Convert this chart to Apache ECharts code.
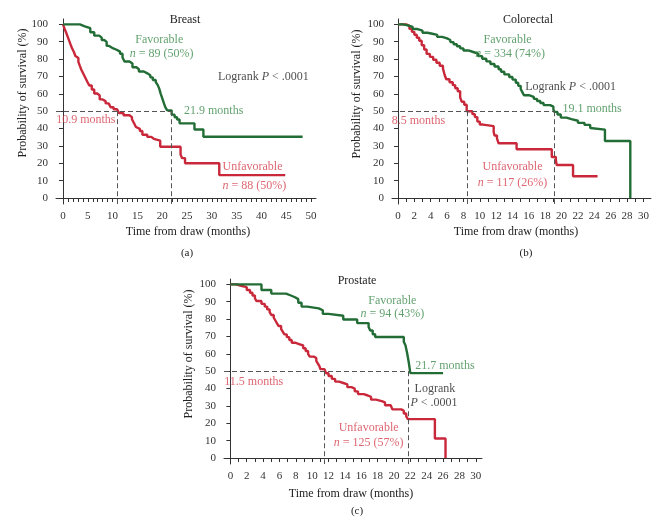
<!DOCTYPE html>
<html>
<head>
<meta charset="utf-8">
<script src="https://cdn.jsdelivr.net/npm/echarts@6/dist/echarts.min.js"></script>
<style>
    html, body { margin: 0; padding: 0; background: #fff; }
    #chart { width: 658px; height: 522px; }
</style>
</head>
<body>
<div id="chart"></div>
<script>
// survival curves, [months, survival %]
var breastFavorable = [[0,100],[3.4,98.9],[4.4,97.8],[5.5,95.5],[6.3,93.5],[7.3,92.4],[7.8,91.0],[8.3,89.9],[8.8,87.6],[9.3,86.5],[9.9,85.4],[10.8,84.3],[11.5,83.1],[12.0,80.9],[12.4,78.6],[13.4,77.5],[14.0,75.3],[14.8,74.2],[15.3,72.9],[16.3,71.8],[17.0,70.7],[17.6,69.5],[18.1,68.0],[18.7,66.8],[19.1,65.0],[19.4,63.0],[19.7,60.0],[20.0,57.5],[20.3,55.0],[20.6,52.5],[21.0,50.5],[21.9,48.0],[22.5,46.5],[23.0,45.2],[23.5,43.0],[26.5,39.5],[28.3,35.3],[48.3,35.3]];
var breastUnfavorable = [[0,100],[0.3,97.7],[0.6,95.5],[0.9,93.2],[1.2,90.9],[1.5,88.6],[1.8,86.4],[2.2,84.1],[2.5,81.8],[2.8,80.7],[3.1,78.4],[3.4,76.1],[3.7,73.9],[4.1,71.6],[4.5,69.3],[4.9,67.0],[5.3,64.8],[5.8,62.5],[6.3,60.2],[6.9,59.1],[7.4,56.8],[8.0,55.7],[8.6,54.5],[9.2,53.4],[9.6,52.3],[10.2,51.1],[10.9,50.0],[11.3,48.9],[12.2,47.7],[13.4,46.6],[13.9,45.4],[14.3,43.2],[14.7,40.9],[15.1,39.8],[15.5,38.6],[16.0,36.4],[17.0,35.2],[17.8,34.1],[18.3,33.0],[19.6,29.5],[23.7,25.0],[24.0,23.0],[24.6,20.0],[31.5,13.2],[44.8,13.2]];
var colorectalFavorable = [[0,100],[0.6,99.4],[1.2,98.5],[1.8,97.3],[2.4,96.4],[3.0,95.2],[3.6,94.6],[4.2,94.0],[4.8,92.8],[5.4,91.9],[6.0,91.0],[6.4,89.8],[6.8,88.6],[7.2,87.4],[7.6,86.2],[8.0,85.0],[8.6,84.1],[9.2,83.2],[9.8,81.7],[10.3,80.2],[10.8,78.7],[11.3,77.2],[11.8,75.7],[12.3,74.2],[12.6,72.7],[13.0,71.2],[13.6,69.7],[14.0,68.2],[14.4,66.4],[14.7,64.6],[15.0,62.8],[15.2,61.0],[15.4,59.2],[16.0,58.3],[16.6,57.1],[17.0,55.9],[17.4,54.7],[17.8,53.5],[18.6,52.6],[19.0,51.1],[19.1,49.6],[19.5,48.1],[19.9,46.3],[20.6,45.4],[21.2,44.5],[22.0,43.3],[22.8,42.1],[23.5,40.3],[23.7,39.4],[25.3,32.8],[28.4,0]];
var colorectalUnfavorable = [[0,100],[1.0,99.1],[1.4,97.4],[1.7,95.7],[2.0,94.0],[2.3,92.3],[2.6,90.6],[2.9,88.0],[3.2,85.5],[3.5,83.0],[3.9,81.3],[4.3,79.6],[4.7,77.9],[5.1,76.2],[5.5,74.5],[5.7,71.0],[5.9,68.4],[6.3,66.7],[6.7,65.0],[7.0,63.2],[7.3,61.5],[7.6,58.0],[7.8,55.4],[8.1,53.7],[8.4,50.0],[9.1,48.3],[9.4,46.6],[9.7,44.0],[10.0,42.3],[10.4,41.4],[11.7,38.0],[11.8,36.0],[12.1,34.3],[12.3,31.5],[14.5,28.1],[18.8,23.6],[19.3,21.9],[19.4,19.0],[21.4,12.5],[24.4,12.5]];
var prostateFavorable = [[0,100],[3.8,96.8],[5.0,94.7],[6.8,93.6],[7.4,92.6],[7.9,91.5],[8.3,89.4],[8.7,87.2],[9.4,86.2],[10.8,85.1],[11.3,83.0],[12.0,81.9],[13.8,79.8],[15.5,77.7],[16.9,75.5],[17.1,73.4],[17.4,71.3],[17.7,69.7],[21.2,67.0],[21.4,64.9],[21.6,60.6],[21.8,55.3],[22.0,48.9],[26.0,48.9]];
var prostateUnfavorable = [[0,100],[0.7,99.2],[1.3,98.4],[2.0,96.8],[2.4,95.2],[2.7,93.6],[3.0,92.0],[3.2,90.4],[3.8,88.8],[4.2,87.2],[4.5,85.6],[4.8,84.0],[5.0,82.4],[5.3,80.8],[5.5,79.2],[5.7,77.6],[5.9,76.0],[6.2,74.4],[6.4,72.8],[6.6,71.2],[6.9,69.6],[7.2,68.0],[7.5,66.4],[7.9,65.6],[8.4,64.8],[8.9,63.2],[9.2,61.6],[9.5,60.0],[9.7,58.4],[10.2,57.6],[10.5,56.0],[10.7,54.4],[10.9,52.8],[11.0,51.2],[11.5,50.4],[11.7,48.8],[12.0,47.2],[12.4,45.6],[12.8,44.0],[13.3,43.2],[13.8,42.4],[14.3,40.8],[14.8,40.0],[15.2,38.4],[15.6,36.8],[16.3,36.0],[16.8,35.2],[17.2,33.6],[17.8,32.8],[18.5,32.0],[18.9,30.4],[19.6,29.6],[19.8,28.0],[20.9,27.2],[21.2,25.6],[21.5,24.0],[21.7,22.4],[25.0,11.2],[26.3,0]];

// median survival (months): [unfavorable, favorable]
var breastMedians = [10.9, 21.9];
var colorectalMedians = [8.5, 19.1];
var prostateMedians = [11.5, 21.7];

var panelTitles = ['Breast', 'Colorectal', 'Prostate'];
var panelLetters = ['(a)', '(b)', '(c)'];
var yTicks = [0, 10, 20, 30, 40, 50, 60, 70, 80, 90, 100];
var xLabelsA = [0, 5, 10, 15, 20, 25, 30, 35, 40, 45, 50];
var xLabelsBC = [0, 2, 4, 6, 8, 10, 12, 14, 16, 18, 20, 22, 24, 26, 28, 30];

var SERIF = '"Liberation Serif", "DejaVu Serif", serif';
var GREEN = '#226d35';
var RED = '#c9283b';
var GREEN_TXT = '#3b8a4b';
var RED_TXT = '#d4404e';
var INK = '#222';

function range(a, b) {
    var out = [];
    for (var i = a; i <= b; i++) out.push(i);
    return out;
}

var panels = [
    { fav: breastFavorable, unf: breastUnfavorable, med: breastMedians,
      grid: { left: 56, top: 19, width: 260, height: 185 },
      xmin: -1.41, xmax: 51.0, xLabels: xLabelsA, xTicks: range(0, 50),
      notes: [
          [19.4, 91, 'Favorable', GREEN_TXT, 'center'],
          [19.9, 83.3, '{i|n} = 89 (50%)', GREEN_TXT, 'center'],
          [40.4, 69.5, 'Logrank {i|P} < .0001', INK, 'center'],
          [24.4, 50.1, '21.9 months', GREEN_TXT, 'left'],
          [4.6, 44.9, '10.9 months', RED_TXT, 'center'],
          [38.2, 18, 'Unfavorable', RED_TXT, 'center'],
          [38.6, 7.1, '{i|n} = 88 (50%)', RED_TXT, 'center']
      ] },
    { fav: colorectalFavorable, unf: colorectalUnfavorable, med: colorectalMedians,
      grid: { left: 392, top: 19, width: 259, height: 185 },
      xmin: -0.73, xmax: 30.93, xLabels: xLabelsBC, xTicks: range(0, 30),
      notes: [
          [13.4, 91, 'Favorable', GREEN_TXT, 'center'],
          [13.7, 83.3, '{i|n} = 334 (74%)', GREEN_TXT, 'center'],
          [21.1, 64.1, 'Logrank {i|P} < .0001', INK, 'center'],
          [20.1, 51.2, '19.1 months', GREEN_TXT, 'left'],
          [2.5, 44.5, '8.5 months', RED_TXT, 'center'],
          [14.0, 18, 'Unfavorable', RED_TXT, 'center'],
          [14.0, 8.8, '{i|n} = 117 (26%)', RED_TXT, 'center']
      ] },
    { fav: prostateFavorable, unf: prostateUnfavorable, med: prostateMedians,
      grid: { left: 224, top: 279, width: 258, height: 185 },
      xmin: -0.78, xmax: 30.76, xLabels: xLabelsBC, xTicks: range(0, 30),
      notes: [
          [19.8, 90.6, 'Favorable', GREEN_TXT, 'center'],
          [19.8, 83.3, '{i|n} = 94 (43%)', GREEN_TXT, 'center'],
          [22.6, 53, '21.7 months', GREEN_TXT, 'left'],
          [2.85, 44, '11.5 months', RED_TXT, 'center'],
          [25.0, 39.7, 'Logrank', INK, 'center'],
          [24.9, 31.6, '{i|P} < .0001', INK, 'center'],
          [16.9, 17.2, 'Unfavorable', RED_TXT, 'center'],
          [16.9, 9.0, '{i|n} = 125 (57%)', RED_TXT, 'center']
      ] }
];

var YMIN = -3.45, YMAX = 103.1;

var option = {
    backgroundColor: '#fff',
    animation: false,
    textStyle: { fontFamily: SERIF },
    grid: [], xAxis: [], yAxis: [], series: [],
    graphic: []
};

panels.forEach(function (p, k) {
    option.grid.push(p.grid);
    option.xAxis.push({
        type: 'value', gridIndex: k, min: p.xmin, max: p.xmax,
        axisLine: { lineStyle: { color: '#333', width: 1 } },
        axisTick: { length: 4, lineStyle: { color: '#333' }, customValues: p.xTicks },
        axisLabel: { customValues: p.xLabels, color: '#333', fontSize: 11, fontFamily: SERIF, margin: 7 },
        splitLine: { show: false }
    });
    option.yAxis.push({
        type: 'value', gridIndex: k, min: YMIN, max: YMAX,
        axisLine: { show: true, lineStyle: { color: '#333', width: 1 } },
        axisTick: { show: true, length: 4, lineStyle: { color: '#333' }, customValues: yTicks },
        axisLabel: { customValues: yTicks, color: '#333', fontSize: 11, fontFamily: SERIF, margin: 8 },
        splitLine: { show: false }
    });

    // dashed median guides
    option.series.push({
        type: 'line', xAxisIndex: k, yAxisIndex: k, data: [], silent: true,
        markLine: {
            symbol: 'none', silent: true, animation: false,
            label: { show: false },
            lineStyle: { color: '#555', width: 1, type: [5, 3] },
            data: [
                [{ coord: [p.xmin, 50] }, { coord: [p.med[1], 50] }],
                [{ coord: [p.med[0], 50] }, { coord: [p.med[0], YMIN] }],
                [{ coord: [p.med[1], 50] }, { coord: [p.med[1], YMIN] }]
            ]
        }
    });

    option.series.push({
        type: 'line', xAxisIndex: k, yAxisIndex: k, step: 'end', showSymbol: false,
        data: p.unf, lineStyle: { color: RED, width: 2.4 }, z: 3
    });
    option.series.push({
        type: 'line', xAxisIndex: k, yAxisIndex: k, step: 'end', showSymbol: false,
        data: p.fav, lineStyle: { color: GREEN, width: 2.4 }, z: 4
    });

    option.series.push({
        type: 'scatter', xAxisIndex: k, yAxisIndex: k, symbolSize: 0, silent: true, z: 10,
        data: p.notes.map(function (n) {
            return {
                value: [n[0], n[1]],
                label: {
                    show: true, position: 'inside', formatter: n[2], color: n[3], align: n[4],
                    fontSize: 12, fontFamily: SERIF,
                    rich: { i: { fontStyle: 'italic', color: n[3], fontSize: 12, fontFamily: SERIF } }
                }
            };
        })
    });
});

// panel titles, axis names, letters
var titlePos = [[185, 20], [528, 20], [357, 281]];
var xNamePos = [[188, 232], [516, 232], [351, 494]];
var yNamePos = [[23, 93], [357, 94], [189, 354]];
var letterPos = [[187, 253], [526, 253], [357, 511]];

for (var k = 0; k < 3; k++) {
    option.graphic.push({ type: 'text', x: titlePos[k][0], y: titlePos[k][1],
        style: { text: panelTitles[k], fill: INK, font: '12px ' + SERIF, align: 'center', verticalAlign: 'middle' } });
    option.graphic.push({ type: 'text', x: xNamePos[k][0], y: xNamePos[k][1],
        style: { text: 'Time from draw (months)', fill: INK, font: '12px ' + SERIF, align: 'center', verticalAlign: 'middle' } });
    option.graphic.push({ type: 'text', x: yNamePos[k][0], y: yNamePos[k][1], rotation: Math.PI / 2,
        style: { text: 'Probability of survival (%)', fill: INK, font: '12px ' + SERIF, align: 'center', verticalAlign: 'middle' } });
    option.graphic.push({ type: 'text', x: letterPos[k][0], y: letterPos[k][1],
        style: { text: panelLetters[k], fill: INK, font: '11px ' + SERIF, align: 'center', verticalAlign: 'middle' } });
}

var chart = echarts.init(document.getElementById('chart'));
chart.setOption(option);
</script>
</body>
</html>
